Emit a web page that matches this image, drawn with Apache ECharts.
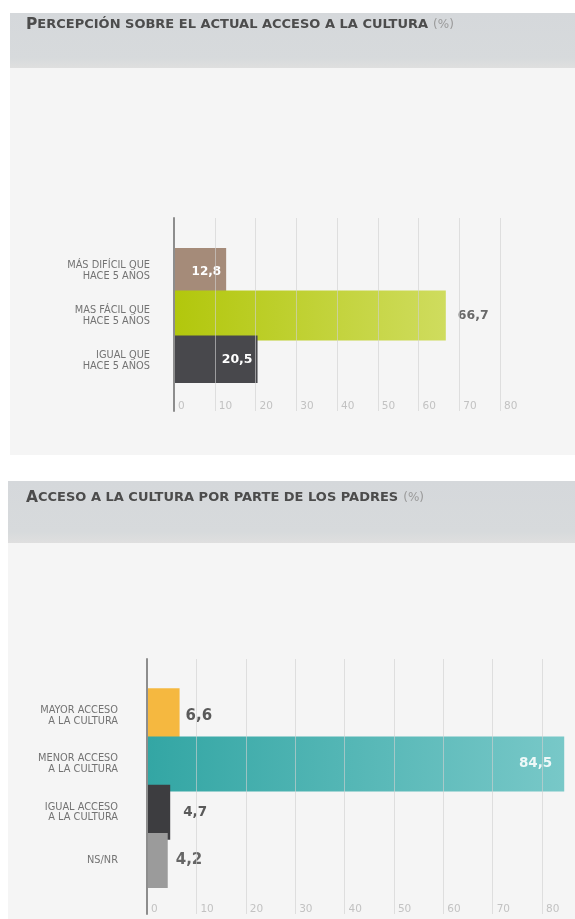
<!DOCTYPE html>
<html>
<head>
<meta charset="utf-8">
<script src="https://cdn.jsdelivr.net/npm/echarts@6/dist/echarts.min.js"></script>
<style>
  html, body { margin: 0; padding: 0; background: #ffffff; }
  #chart { width: 575px; height: 919px; }
</style>
</head>
<body>
<div id="chart"></div>
<script>
// Percepción sobre el actual acceso a la cultura (%)
const accesoCategorias = ['MÁS DIFÍCIL QUE\nHACE 5 AÑOS', 'MAS FÁCIL QUE\nHACE 5 AÑOS', 'IGUAL QUE\nHACE 5 AÑOS'];
const accesoValores = [12.8, 66.7, 20.5];

// Acceso a la cultura por parte de los padres (%)
const padresCategorias = ['MAYOR ACCESO\nA LA CULTURA', 'MENOR ACCESO\nA LA CULTURA', 'IGUAL ACCESO\nA LA CULTURA', 'NS/NR'];
const padresValores = [6.6, 84.5, 4.7, 4.2];

// Shared value scale
const escalaMin = 0;
const escalaMax = 80;
const escalaPaso = 10;

const FONT = 'DejaVu Sans';

const grad = (c1, c2) => new echarts.graphic.LinearGradient(0, 0, 1, 0, [
  { offset: 0, color: c1 }, { offset: 1, color: c2 }
]);

const fmt = v => String(v).replace('.', ',');

const accesoEstilos = [
  { color: '#a58b79', label: { position: 'insideRight', distance: 5, color: '#ffffff', fontSize: 12 } },
  { color: grad('#b2c70c', '#cfdc5e'), label: { position: 'right', distance: 12, color: '#6a6a6a', fontSize: 12.5 } },
  { color: '#48484c', label: { position: 'insideRight', distance: 5, color: '#ffffff', fontSize: 12.5 } }
];
const padresEstilos = [
  { color: '#f5b840', label: { position: 'right', distance: 6, color: '#5a5a5a', fontSize: 15 } },
  { color: grad('#33a6a4', '#78c8c8'), label: { position: 'insideRight', distance: 12, color: '#eef8f8', fontSize: 13.5 } },
  { color: '#3d3d40', label: { position: 'right', distance: 13, color: '#5a5a5a', fontSize: 13.5 } },
  { color: '#9b9b9b', label: { position: 'right', distance: 8, color: '#666666', fontSize: 15 } }
];

const buildData = (vals, estilos) => vals.map((v, i) => ({
  value: v,
  itemStyle: { color: estilos[i].color },
  label: Object.assign({ show: true, fontWeight: 'bold', fontFamily: FONT, formatter: p => fmt(p.value) }, estilos[i].label)
}));

const titleRich = {
  a: { fontFamily: FONT, fontWeight: 'bold', fontSize: 15.5, color: '#4c4c4c' },
  b: { fontFamily: FONT, fontWeight: 'bold', fontSize: 13, color: '#4c4c4c' },
  c: { fontFamily: FONT, fontWeight: 'normal', fontSize: 12, color: '#9a9a9a' }
};

const catLabel = (margin, lh) => ({
  fontFamily: FONT, fontSize: 9.8, color: '#737373', margin: margin, lineHeight: lh, align: 'right'
});

const lineAxisX = (gridIndex) => ({
  gridIndex, type: 'value', min: escalaMin, max: escalaMax, interval: escalaPaso, z: 10,
  axisLine: { show: false }, axisTick: { show: false },
  splitLine: { show: true, lineStyle: { color: 'rgba(208,208,208,0.62)', width: 1 } },
  axisLabel: { inside: true, margin: -1, align: 'left', padding: [0, 0, 0, 4], fontFamily: FONT, fontSize: 10.5, color: '#c2c2c2' }
});

const lineAxisY = (gridIndex) => ({
  gridIndex, type: 'value', min: 0, max: 1, z: 11,
  axisLine: { show: true, onZero: false, lineStyle: { color: '#8d8d8d', width: 2 } },
  axisTick: { show: false }, axisLabel: { show: false }, splitLine: { show: false }
});

const headerFill = () => new echarts.graphic.LinearGradient(0, 0, 0, 1, [
  { offset: 0, color: '#d5d8db' }, { offset: 0.82, color: '#d7dadc' }, { offset: 1, color: '#dfdfdf' }
]);

const chart = echarts.init(document.getElementById('chart'), null, { renderer: 'canvas' });

chart.setOption({
  backgroundColor: '#ffffff',
  animation: false,
  graphic: [
    { type: 'rect', z: -100, shape: { x: 10, y: 13, width: 565, height: 55 }, style: { fill: headerFill() } },
    { type: 'rect', z: -100, shape: { x: 10, y: 68, width: 565, height: 387 }, style: { fill: '#f5f5f5' } },
    { type: 'rect', z: -100, shape: { x: 8, y: 481, width: 567, height: 62 }, style: { fill: headerFill() } },
    { type: 'rect', z: -100, shape: { x: 8, y: 543, width: 567, height: 376 }, style: { fill: '#f5f5f5' } }
  ],
  title: [
    { left: 21, top: 11, text: '{a|P}{b|ERCEPCIÓN SOBRE EL ACTUAL ACCESO A LA CULTURA} {c|(%)}', textStyle: { rich: titleRich } },
    { left: 21, top: 484, text: '{a|A}{b|CCESO A LA CULTURA POR PARTE DE LOS PADRES} {c|(%)}', textStyle: { rich: titleRich } }
  ],
  grid: [
    { left: 174, right: 75, top: 248, height: 135, outerBoundsMode: 'none' },
    { left: 174, right: 75, top: 218, bottom: 508, outerBoundsMode: 'none' },
    { left: 147, right: 33, top: 691.6, height: 193, outerBoundsMode: 'none' },
    { left: 147, right: 33, top: 659, bottom: 5, outerBoundsMode: 'none' }
  ],
  xAxis: [
    { gridIndex: 0, type: 'value', min: escalaMin, max: escalaMax, show: false },
    lineAxisX(1),
    { gridIndex: 2, type: 'value', min: escalaMin, max: escalaMax, show: false },
    lineAxisX(3)
  ],
  yAxis: [
    { gridIndex: 0, type: 'category', inverse: true, data: accesoCategorias,
      axisLine: { show: false }, axisTick: { show: false }, axisLabel: catLabel(24, 11) },
    lineAxisY(1),
    { gridIndex: 2, type: 'category', inverse: true, data: padresCategorias,
      axisLine: { show: false }, axisTick: { show: false }, axisLabel: catLabel(29, 10.5) },
    lineAxisY(3)
  ],
  series: [
    { type: 'bar', xAxisIndex: 0, yAxisIndex: 0, barWidth: 50, data: buildData(accesoValores, accesoEstilos) },
    { type: 'bar', xAxisIndex: 2, yAxisIndex: 2, barWidth: 55, clip: false, data: buildData(padresValores, padresEstilos) }
  ]
});
</script>
</body>
</html>
